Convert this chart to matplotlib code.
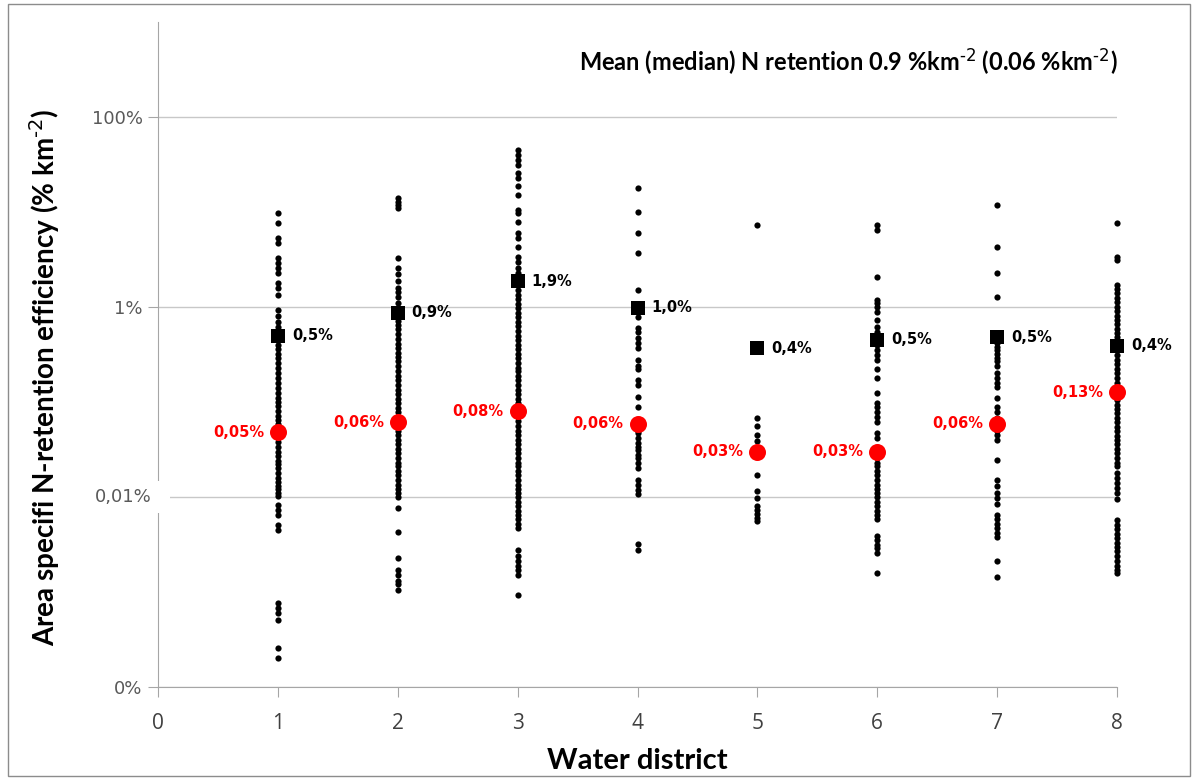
import matplotlib.pyplot as plt
from matplotlib.patches import Rectangle
from matplotlib.ticker import NullLocator

plt.rcParams['mathtext.default'] = 'regular'

# Data (values in % per km2)
districts = [1, 2, 3, 4, 5, 6, 7, 8]

d1 = [9.7, 7.7, 5.3, 4.7, 3.3, 2.9, 2.6, 2.3, 1.8, 1.6, 1.35, 0.93,
      0.8, 0.7, 0.62, 0.55, 0.5, 0.45, 0.4, 0.36, 0.32, 0.29, 0.26, 0.23,
      0.2, 0.18, 0.16, 0.14, 0.125, 0.11, 0.1, 0.09, 0.08, 0.072, 0.065,
      0.058, 0.052, 0.047, 0.042, 0.038, 0.034, 0.03, 0.027, 0.024, 0.022,
      0.02, 0.018, 0.016, 0.0145, 0.013, 0.012, 0.011, 0.0102,
      0.0082, 0.0073, 0.0065, 0.0051, 0.0045,
      0.00077, 0.00068, 0.0006, 0.00051, 0.00026, 0.0002]
d2 = [14.0, 12.7, 11.9, 11.0, 3.3, 2.6, 2.2, 1.9, 1.6, 1.45, 1.27, 1.1,
      0.72, 0.65, 0.58, 0.52, 0.46, 0.41, 0.37, 0.33, 0.3, 0.27, 0.24,
      0.21, 0.19, 0.17, 0.15, 0.135, 0.12, 0.108, 0.097, 0.087, 0.078,
      0.07, 0.063, 0.056, 0.05, 0.045, 0.04, 0.036, 0.032, 0.029, 0.026,
      0.023, 0.021, 0.019, 0.017, 0.015, 0.0135, 0.012, 0.011, 0.0099,
      0.0077, 0.0043, 0.0023, 0.0017, 0.0015, 0.0013, 0.0012, 0.00105]
d3 = [45, 40, 35, 31, 26, 23, 19, 15, 10.5, 9.8, 7.9, 6.0, 5.3, 4.3, 3.4,
      3.0, 2.6, 2.3, 2.1,
      1.5, 1.35, 1.2, 1.08, 0.97, 0.87, 0.78, 0.7, 0.63, 0.56, 0.5, 0.45,
      0.4, 0.36, 0.32, 0.29, 0.26, 0.23, 0.21, 0.19, 0.17, 0.15, 0.135,
      0.12, 0.108, 0.097, 0.087, 0.078, 0.07, 0.063, 0.056, 0.05, 0.045,
      0.04, 0.036, 0.032, 0.029, 0.026, 0.023, 0.021, 0.019, 0.017, 0.015,
      0.0135, 0.012, 0.011, 0.0099, 0.0089, 0.008, 0.0072, 0.0065, 0.0058,
      0.0052, 0.0047,
      0.0028, 0.0024, 0.0021, 0.0019, 0.0017, 0.0015, 0.00092]
d4 = [18, 10, 6.0, 3.7, 1.5, 0.78, 0.6, 0.55, 0.47, 0.42, 0.37, 0.28, 0.24,
      0.22, 0.17, 0.15, 0.113, 0.089, 0.055, 0.05, 0.047, 0.042, 0.037,
      0.034, 0.031, 0.028, 0.026, 0.023, 0.02, 0.015, 0.0134, 0.0119,
      0.0108, 0.0032, 0.0028]
d5 = [7.3, 0.068, 0.056, 0.045, 0.039, 0.017, 0.0116, 0.0098, 0.008,
      0.0073, 0.0066, 0.006, 0.0056]
d6 = [7.3, 6.5, 2.07, 1.18, 1.1, 1.0, 0.89, 0.73, 0.62, 0.55, 0.5, 0.45,
      0.4, 0.35, 0.31, 0.28, 0.22, 0.18, 0.124, 0.098, 0.088, 0.078, 0.07,
      0.062, 0.047, 0.042, 0.032, 0.029, 0.026, 0.023, 0.021, 0.019, 0.017,
      0.015, 0.0135, 0.012, 0.011, 0.0099, 0.0089, 0.008, 0.0072, 0.0065,
      0.0058, 0.0039, 0.0035, 0.0031, 0.0029, 0.0026, 0.0016]
d7 = [11.9, 4.3, 2.3, 1.27, 0.42, 0.38, 0.35, 0.32, 0.29, 0.27, 0.24, 0.2,
      0.18, 0.16, 0.145, 0.11, 0.088, 0.079, 0.068, 0.055, 0.05, 0.045,
      0.04, 0.0245, 0.015, 0.013, 0.011, 0.0098, 0.0085, 0.0065, 0.0058,
      0.0052, 0.0047, 0.0042, 0.0038, 0.0021, 0.00144]
d8 = [7.7, 3.4, 3.1,
      1.7, 1.55, 1.4, 1.25, 1.12, 1.0, 0.9, 0.81, 0.73, 0.66, 0.59, 0.53,
      0.48, 0.43, 0.39, 0.35, 0.31, 0.28, 0.25, 0.225, 0.2, 0.18, 0.16,
      0.145, 0.13, 0.117, 0.105, 0.094, 0.085, 0.076, 0.068, 0.061, 0.055,
      0.049, 0.044, 0.04, 0.036, 0.032, 0.029, 0.026, 0.023, 0.021, 0.018,
      0.016, 0.014, 0.0125, 0.011, 0.0095,
      0.0057, 0.0051, 0.0046, 0.0041, 0.0037, 0.0033, 0.003, 0.0027,
      0.0024, 0.0021, 0.0019, 0.0017, 0.0016]
district_values = [d1, d2, d3, d4, d5, d6, d7, d8]

means = [0.5, 0.87, 1.87, 0.98, 0.37, 0.45, 0.48, 0.39]
mean_labels = ['0,5%', '0,9%', '1,9%', '1,0%', '0,4%', '0,5%', '0,5%', '0,4%']
medians = [0.048, 0.061, 0.08, 0.059, 0.03, 0.03, 0.059, 0.127]
median_labels = ['0,05%', '0,06%', '0,08%', '0,06%', '0,03%', '0,03%', '0,06%', '0,13%']

ytick_vals = [1e-4, 1e-2, 1, 1e2]
ytick_labels = ['0%', '', '1%', '100%']
xtick_vals = [0, 1, 2, 3, 4, 5, 6, 7, 8]

W, H = 1198, 778
fig = plt.figure(figsize=(W / 100, H / 100), dpi=100)
ax = fig.add_axes([158 / W, 1 - 687 / H, (1117 - 158) / W, (687 - 22) / H])

grey = '#a6a6a6'

ax.set_yscale('log')
ax.set_ylim(1e-4, 1e3)
ax.set_xlim(0, 8)

for d, vals in zip(districts, district_values):
    ax.scatter([d] * len(vals), vals, s=20, color='black', linewidths=0,
               zorder=3, clip_on=False)

ax.scatter(districts, means, marker='s', s=100, color='black', linewidths=0,
           zorder=4, clip_on=False)
ax.scatter(districts, medians, marker='o', s=150, color='#ff0000',
           linewidths=0, zorder=5, clip_on=False)

for d, m, lab in zip(districts, means, mean_labels):
    ax.annotate(lab, (d, m), xytext=(10, 0), textcoords='offset points',
                ha='left', va='center', fontsize=10.5, fontweight='bold',
                color='black')
for d, m, lab in zip(districts, medians, median_labels):
    ax.annotate(lab, (d, m), xytext=(-10, 0), textcoords='offset points',
                ha='right', va='center', fontsize=10.5, fontweight='bold',
                color='#ff0000')

ax.set_yticks(ytick_vals)
ax.set_yticklabels(ytick_labels)
ax.yaxis.set_minor_locator(NullLocator())
ax.set_xticks(xtick_vals)
ax.yaxis.grid(True, color='#c8c8c8', linewidth=1)
ax.set_axisbelow(True)

for side in ['top', 'right']:
    ax.spines[side].set_visible(False)
for side in ['left', 'bottom']:
    ax.spines[side].set_color(grey)

ax.tick_params(axis='y', direction='out', length=7, color=grey,
               labelsize=13, labelcolor='#595959', pad=4)
ax.tick_params(axis='x', direction='out', length=7, color=grey,
               labelsize=15, labelcolor='#404040', pad=12)
for t in ax.get_xticklabels():
    t.set_fontfamily('Open Sans')

ax.set_xlabel('Water district', fontsize=21, fontweight='bold',
              family='Lato', labelpad=10)

fig.text(45 / W, 1 - 377 / H,
         r'Area specifi N-retention efficiency (% km$^{\text{-2}}$)',
         rotation=90, ha='center', va='center', fontsize=20,
         fontweight='bold', family='Lato', color='black')

fig.text(1118 / W, 1 - 62 / H,
         r'Mean (median) N retention 0.9 %km$^{\text{-2}}$ (0.06 %km$^{\text{-2}}$)',
         ha='right', va='center', fontsize=17, fontweight='bold',
         family='Lato', color='black')

# white patch behind the 0,01% label that breaks the axis line
fig.add_artist(Rectangle((84 / W, 1 - 513 / H), (170 - 84) / W, 32 / H,
                         transform=fig.transFigure, facecolor='white',
                         edgecolor='none', zorder=5))
fig.text(152 / W, 1 - 497 / H, '0,01%', ha='right', va='center',
         fontsize=13, color='#595959', zorder=6)

# outer frame
fig.add_artist(Rectangle((8 / W, 2 / H), (1190 - 8) / W, (774 - 2) / H,
                         transform=fig.transFigure, facecolor='none',
                         edgecolor='#8c8c8c', linewidth=1, zorder=0))

fig.savefig('out.png', dpi=100)
